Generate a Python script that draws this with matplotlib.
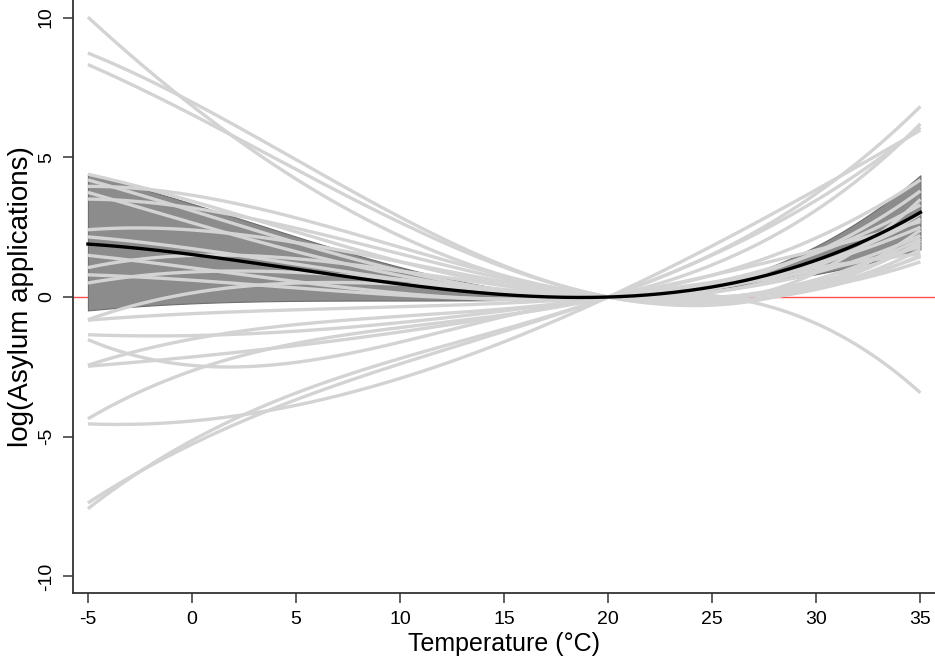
import numpy as np
import matplotlib
matplotlib.use("Agg")
import matplotlib.pyplot as plt

# values read at these temperatures (all curves are 0 at 20 °C)
knots = [-5, 5, 10, 20, 35]

mean_fit = [1.9, 0.97, 0.5, 0.0, 3.03]
ci_upper = [4.4, 2.1, 1.15, 0.0, 4.36]
ci_lower = [-0.47, -0.2, -0.05, 0.0, 1.7]

# one row per country: value at -5, 5, 10, 20, 35
country_curves = [
    [10.05, 4.0, 2.45, 0.0, 2.1],
    [8.75, 4.8, 3.0, 0.0, 3.5],
    [8.33, 4.5, 2.75, 0.0, 2.4],
    [4.4, 2.3, 1.3, 0.0, 3.0],
    [4.2, 1.9, 1.0, 0.0, 3.8],
    [3.95, 2.9, 1.7, 0.0, 2.0],
    [3.75, 1.6, 0.8, 0.0, 2.8],
    [3.5, 2.5, 1.5, 0.0, 1.7],
    [2.4, 2.0, 1.2, 0.0, 1.5],
    [2.15, 1.2, 0.6, 0.0, 2.2],
    [1.5, 0.5, 0.2, 0.0, 3.3],
    [1.05, 1.4, 0.9, 0.0, 1.9],
    [0.8, 0.3, 0.1, 0.0, 2.5],
    [0.5, 0.9, 0.6, 0.0, 1.26],
    [-0.78, 0.3, 0.7, 0.0, 1.45],
    [-0.82, -0.5, -0.3, 0.0, 1.8],
    [-1.36, -1.15, -1.0, 0.0, 1.55],
    [-1.56, -2.1, -1.9, 0.0, -3.44],
    [-2.43, -1.06, -0.6, 0.0, 4.2],
    [-2.47, -1.78, -1.2, 0.0, 2.7],
    [-4.32, -1.9, -0.8, 0.0, 6.21],
    [-4.55, -3.8, -3.0, 0.0, 5.97],
    [-7.32, -4.0, -2.0, 0.0, 6.09],
    [-7.55, -3.6, -2.0, 0.0, 6.83],
]

x_ticks = [-5, 0, 5, 10, 15, 20, 25, 30, 35]
y_ticks = [-10, -5, 0, 5, 10]

plt.rcParams["font.family"] = ["Liberation Sans", "DejaVu Sans"]
plt.rcParams["axes.unicode_minus"] = False

temp = np.linspace(-5, 35, 300)
weights = [1, 1, 1, 6, 1]


def smooth(values):
    coef = np.polyfit(knots, values, 3, w=weights)
    return np.polyval(coef, temp)


fig = plt.figure(figsize=(9.35, 6.67), dpi=100)
ax = fig.add_axes([0.078, 0.111, 0.922, 0.889])

ax.axhline(0, color="#ff5050", lw=1.0, zorder=1)
ax.fill_between(temp, smooth(ci_lower), smooth(ci_upper), facecolor="#8c8c8c",
                edgecolor="#6e6e6e", lw=0.8, zorder=2)
for row in country_curves:
    ax.plot(temp, smooth(row), color="#d3d3d3", lw=2.4, zorder=3, solid_capstyle="butt")
ax.plot(temp, smooth(mean_fit), color="black", lw=2.4, zorder=4)

ax.set_xlim(-5.72, 35.7)
ax.set_ylim(-10.59, 10.63)
ax.set_xticks(x_ticks)
ax.set_yticks(y_ticks)
ax.set_yticklabels([str(v) for v in y_ticks], rotation=90, va="center")
ax.tick_params(axis="both", direction="out", length=7, width=1.1, color="#333333")
ax.tick_params(axis="x", labelsize=14, pad=6)
ax.tick_params(axis="y", labelsize=14, pad=6)
for side in ["top", "right"]:
    ax.spines[side].set_visible(False)
for side in ["left", "bottom"]:
    ax.spines[side].set_color("#333333")
    ax.spines[side].set_linewidth(1.3)

ax.set_xlabel("Temperature (°C)", fontsize=18)
ax.set_ylabel("log(Asylum applications)", fontsize=20)
ax.xaxis.set_label_coords(0.5, -0.066)
ax.yaxis.set_label_coords(-0.045, 0.5)

fig.savefig("out.png", dpi=100)
plt.close(fig)
